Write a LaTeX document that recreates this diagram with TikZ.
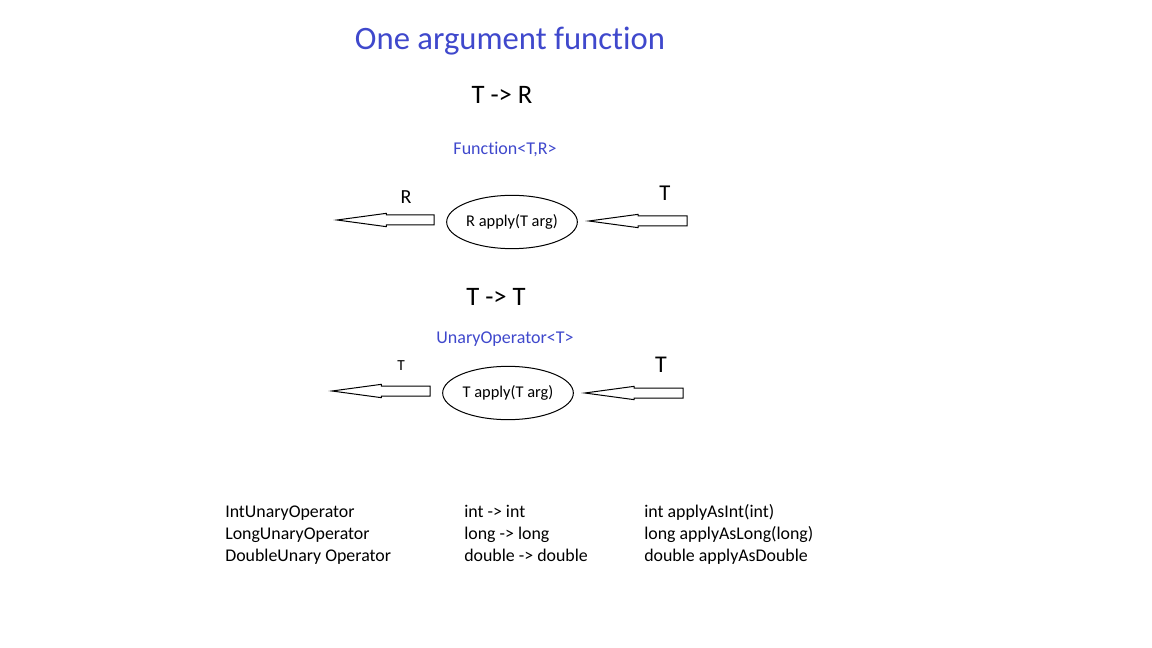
\documentclass[tikz,border=0pt]{standalone}
\usepackage{fontspec}
\setmainfont{Carlito}[Ligatures={NoCommon}]
\usetikzlibrary{shapes.geometric, calc}
\definecolor{fnblue}{HTML}{3F48CC}

% hollow left-pointing block arrow: #1 tail, #2 tip
\newcommand{\blockarrow}[2]{%
  \draw[blockline] let \p1=(#1), \p2=(#2) in
    (\x1,\y1+3.75pt) -- (\x2+37pt,\y1+3.75pt) -- (\x2+37pt,\y1+5pt)
    -- (\x2,\y1) -- (\x2+37pt,\y1-5pt) -- (\x2+37pt,\y1-3.75pt)
    -- (\x1,\y1-3.75pt) -- cycle;}

\tikzset{
  blockline/.style={draw=black, fill=white, line width=0.75pt, line join=miter},
  heading/.style={text=fnblue, font=\fontsize{24.5}{29}\selectfont},
  sig/.style={font=\fontsize{20}{24}\selectfont},
  iface/.style={text=fnblue, font=\fontsize{13.5}{16}\selectfont},
  call/.style={ellipse, draw, line width=0.75pt, inner sep=0pt,
    minimum width=98pt, minimum height=40pt, font=\fontsize{12.3}{14}\selectfont},
  tbl/.style={anchor=base west, inner sep=0pt, font=\fontsize{13.4}{16}\selectfont}
}

\begin{document}
\begin{tikzpicture}[x=0.75pt, y=-0.75pt]
\useasboundingbox (0,0) rectangle (1152,648);

\node[heading] (title) at (510,41) {One argument function};

% T -> R
\node[sig] (sigTR) at (502,95) {T -> R};
\node[iface] (funcName) at (505,149) {Function<T,R>};
\node[call] (fn) at (512,222) {R apply(T arg)};
\coordinate (fnOut) at (337,220);
\coordinate (fnIn) at (687,221);
\node[font=\fontsize{15}{18}\selectfont] (lblR) at (406,197) {R};
\node[font=\fontsize{17}{20}\selectfont] (lblT1) at (665,193) {T};
\blockarrow{$(fn.west)+(-12,-2)$}{fnOut}
\blockarrow{fnIn}{$(fn.east)+(11,0)$}

% T -> T
\node[sig] (sigTT) at (496,297) {T -> T};
\node[iface] (unaryName) at (505,339) {UnaryOperator<T>};
\node[call] (unop) at (508,393) {T apply(T arg)};
\coordinate (unOut) at (332,391);
\coordinate (unIn) at (683,393);
\node[font=\fontsize{11.5}{14}\selectfont] (lblT2) at (401,366) {T};
\node[font=\fontsize{18}{21}\selectfont] (lblT3) at (661,365) {T};
\blockarrow{$(unop.west)+(-12,-2)$}{unOut}
\blockarrow{unIn}{$(unop.east)+(11,0)$}

% primitive specialisations
\foreach \name/\types/\method [count=\i] in {%
    IntUnaryOperator/int -> int/int applyAsInt(int),
    LongUnaryOperator/long -> long/long applyAsLong(long),
    DoubleUnary Operator/double -> double/double applyAsDouble}
{
  \node[tbl] (name\i) at (225, 495+\i*22) {\name};
  \node[tbl] (types\i) at (464, 495+\i*22) {\types};
  \node[tbl] (method\i) at (644, 495+\i*22) {\method};
}
\end{tikzpicture}
\end{document}
